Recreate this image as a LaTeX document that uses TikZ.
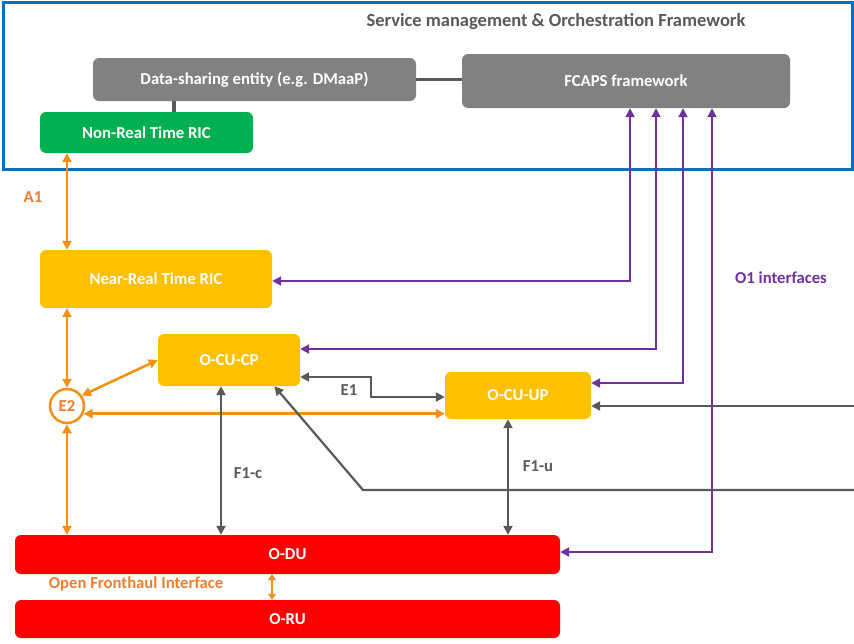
\documentclass[tikz,border=0pt]{standalone}
\usepackage{fontspec}
\setmainfont{Carlito}
\usetikzlibrary{arrows.meta}

\definecolor{smoblue}{RGB}{0,112,192}
\definecolor{boxgray}{RGB}{128,130,130}
\definecolor{linegray}{RGB}{89,89,89}
\definecolor{ricgreen}{RGB}{0,176,80}
\definecolor{cuyellow}{RGB}{255,192,0}
\definecolor{dured}{RGB}{255,0,0}
\definecolor{ifaceorange}{RGB}{244,145,20}
\definecolor{labelorange}{RGB}{237,125,49}
\definecolor{oonepurple}{RGB}{112,48,160}

\tikzset{
  block/.style={rounded corners=6pt, draw=none, text=white, font=\fontsize{16.7}{19}\selectfont\bfseries, inner sep=0pt},
  tip/.style={-{Triangle[length=9pt,width=9pt]}},
  bitip/.style={{Triangle[length=9pt,width=9pt]}-{Triangle[length=9pt,width=9pt]}},
  orangeline/.style={ifaceorange, line width=2.5pt},
  grayline/.style={linegray, line width=2.2pt},
  purpleline/.style={oonepurple, line width=2pt},
  lab/.style={font=\fontsize{16.7}{19}\selectfont\bfseries}
}

\begin{document}
\begin{tikzpicture}[x=1pt, y=-1pt]
		\useasboundingbox (0,0) rectangle (854,643);
		% Draw the framework
		\draw[smoblue, line width=3pt] (3,2) rectangle (852,169);
		\node[text=linegray, font=\fontsize{18.5}{21}\selectfont\bfseries] (title) at (556,22) {Service management \& Orchestration Framework};
		
		% Draw the nodes
		\node[block, fill=boxgray, minimum width=323pt, minimum height=43pt] (DS) at (254.5,79.5) {Data-sharing entity (e.g. DMaaP)};
		\node[block, fill=boxgray, minimum width=328pt, minimum height=54pt] (FCAPS) at (626,81) {FCAPS framework};
		\node[block, fill=ricgreen, minimum width=213pt, minimum height=41pt] (NRT) at (146.5,132.5) {Non-Real Time RIC};
		\node[block, fill=cuyellow, minimum width=232pt, minimum height=58pt] (NearRT) at (156,279) {Near-Real Time RIC};
		\node[block, fill=cuyellow, minimum width=142pt, minimum height=52pt] (CP) at (229,360) {O-CU-CP};
		\node[block, fill=cuyellow, minimum width=146pt, minimum height=47pt] (UP) at (518,395.5) {O-CU-UP};
		\node[block, fill=dured, minimum width=545pt, minimum height=39pt] (ODU) at (287.5,554.5) {O-DU};
		\node[block, fill=dured, minimum width=545pt, minimum height=38pt] (ORU) at (287.5,619) {O-RU};
		\node[circle, draw=ifaceorange, line width=2.5pt, fill=white, minimum size=34pt, inner sep=0pt, text=labelorange, lab] (E2) at (67,406) {E2};
		
		% Draw the framework links
		\draw[grayline] (DS.east) -- (DS.east -| FCAPS.west);
		\draw[linegray, line width=4pt] ([xshift=81pt]DS.south west) -- ([xshift=81pt]DS.south west |- NRT.north);
		
		% Draw the orange interfaces
		\draw[orangeline, bitip] (E2 |- NRT.south) -- (E2 |- NearRT.north);
		\draw[orangeline, bitip] (E2 |- NearRT.south) -- (E2.north);
		\draw[orangeline, bitip] (E2.south) -- (E2 |- ODU.north);
		\draw[orangeline, bitip] (E2.35) -- (CP.west);
		\draw[orangeline, bitip] (E2.-25) -- (E2.-25 -| UP.west);
		\draw[orangeline, {Triangle[length=6pt,width=8pt]}-{Triangle[length=6pt,width=8pt]}] ([xshift=-15.5pt]ODU.south) -- ([xshift=-15.5pt]ORU.north);
		
		% Draw the gray interfaces
		\draw[grayline, bitip] ([yshift=-17pt]CP.east) -- ++(71,0) |- ([yshift=-1.5pt]UP.west);
		\draw[grayline, bitip] ([xshift=-8pt]CP.south) -- ([xshift=-8pt]CP.south |- ODU.north);
		\draw[grayline, bitip] ([xshift=-10pt]UP.south) -- ([xshift=-10pt]UP.south |- ODU.north);
		\coordinate (cpin) at (854,490);
		\coordinate (cpbend) at (363,490);
		\draw[grayline, tip] (cpin) -- (cpbend) -- (CP.-30);
		\coordinate (upin) at (854,406);
		\draw[grayline, tip] (upin) -- (upin -| UP.east);
		
		% Draw the O1 interfaces
		\draw[purpleline, bitip] ([yshift=-2pt]NearRT.east) -| ([xshift=4pt]FCAPS.south);
		\draw[purpleline, bitip] ([yshift=11pt]CP.east) -| ([xshift=30pt]FCAPS.south);
		\draw[purpleline, bitip] ([yshift=12.5pt]UP.east) -| ([xshift=57pt]FCAPS.south);
		\draw[purpleline, bitip] ([yshift=2.5pt]ODU.east) -| ([xshift=86pt]FCAPS.south);
		
		% Draw the labels
		\node[lab, text=labelorange] (A1) at (33,197) {A1};
		\node[lab, text=linegray] (E1) at (349,390) {E1};
		\node[lab, text=linegray] (F1c) at (248,473) {F1-c};
		\node[lab, text=linegray] (F1u) at (538,466) {F1-u};
		\node[lab, text=oonepurple] (O1) at (781,278) {O1 interfaces};
		\node[lab, text=labelorange] (OFH) at (136,584) {Open Fronthaul Interface};
		
	\end{tikzpicture}
\end{document}
